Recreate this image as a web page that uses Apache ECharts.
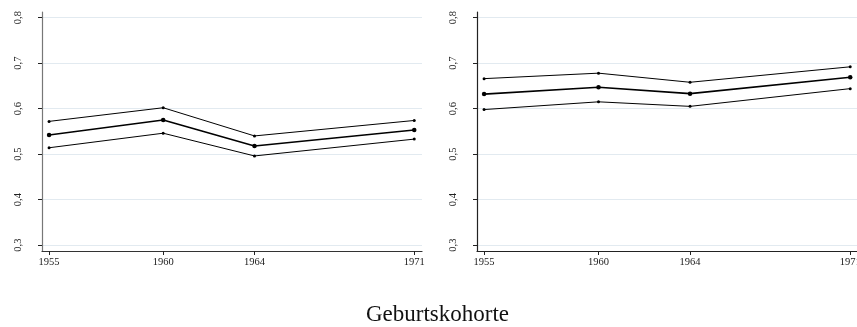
<!DOCTYPE html>
<html>
<head>
<meta charset="utf-8">
<script src="https://cdn.jsdelivr.net/npm/echarts@6/dist/echarts.min.js"></script>
<style>
  html, body { margin: 0; padding: 0; background: #fff; }
  #chart { width: 857px; height: 327px; }
</style>
</head>
<body>
<div id="chart"></div>
<script>
// Birth cohorts on the x axis
const cohorts = [1955, 1960, 1964, 1971];
const yTicks = [0.3, 0.4, 0.5, 0.6, 0.7, 0.8];

// Left panel: estimate with upper and lower bounds
const leftUpper = [0.572, 0.602, 0.540, 0.574];
const leftMid   = [0.542, 0.575, 0.518, 0.553];
const leftLower = [0.514, 0.546, 0.496, 0.533];

// Right panel: estimate with upper and lower bounds
const rightUpper = [0.666, 0.678, 0.658, 0.692];
const rightMid   = [0.632, 0.647, 0.633, 0.669];
const rightLower = [0.598, 0.615, 0.605, 0.644];

const xTitle = 'Geburtskohorte';

const FONT = '"Liberation Serif", "DejaVu Serif", serif';

function pairs(ys) {
  return cohorts.map((c, i) => [c, ys[i]]);
}

function xAxisFor(gridIndex, lineColor) {
  return {
    type: 'value', gridIndex,
    min: 1954.69, max: 1971.34,
    axisLine: { show: true, onZero: false, lineStyle: { color: lineColor, width: 1.2 } },
    axisTick: { show: true, length: 4, customValues: cohorts, lineStyle: { color: '#222' } },
    axisLabel: {
      customValues: cohorts, margin: 6,
      fontFamily: FONT, fontSize: 10.5, color: '#222',
      formatter: v => String(v)
    },
    splitLine: { show: false }
  };
}

function yAxisFor(gridIndex, lineColor) {
  return {
    type: 'value', gridIndex,
    min: 0.287, max: 0.8125,
    axisLine: { show: true, onZero: false, lineStyle: { color: lineColor, width: 1.2 } },
    axisTick: { show: true, length: 4, customValues: yTicks, lineStyle: { color: '#222' } },
    axisLabel: {
      customValues: yTicks, rotate: 90, margin: 18,
      fontFamily: FONT, fontSize: 10.5, color: '#222',
      formatter: v => v.toFixed(1).replace('.', ',')
    },
    splitLine: { show: true, lineStyle: { color: '#e2eaf0', width: 1 } }
  };
}

function band(idx, data, main) {
  return {
    type: 'line', xAxisIndex: idx, yAxisIndex: idx,
    data: pairs(data),
    symbol: 'circle',
    symbolSize: main ? 4.5 : 3,
    lineStyle: { color: '#000', width: main ? 1.6 : 1 },
    itemStyle: { color: '#000' },
    emphasis: { disabled: true },
    silent: true
  };
}

const chart = echarts.init(document.getElementById('chart'), null, { renderer: 'canvas' });
chart.setOption({
  animation: false,
  backgroundColor: '#fff',
  title: {
    text: xTitle, left: 361, top: 298,
    textStyle: { fontFamily: FONT, fontSize: 23, lineHeight: 23, fontWeight: 'normal', color: '#111' }
  },
  grid: [
    { left: 42, top: 12, width: 380, height: 239, containLabel: false, outerBoundsMode: 'none' },
    { left: 477, top: 12, width: 381, height: 239, containLabel: false, outerBoundsMode: 'none' }
  ],
  xAxis: [xAxisFor(0, '#333'), xAxisFor(1, '#222')],
  yAxis: [yAxisFor(0, '#777'), yAxisFor(1, '#222')],
  series: [
    band(0, leftUpper, false), band(0, leftMid, true), band(0, leftLower, false),
    band(1, rightUpper, false), band(1, rightMid, true), band(1, rightLower, false)
  ]
});
</script>
</body>
</html>
